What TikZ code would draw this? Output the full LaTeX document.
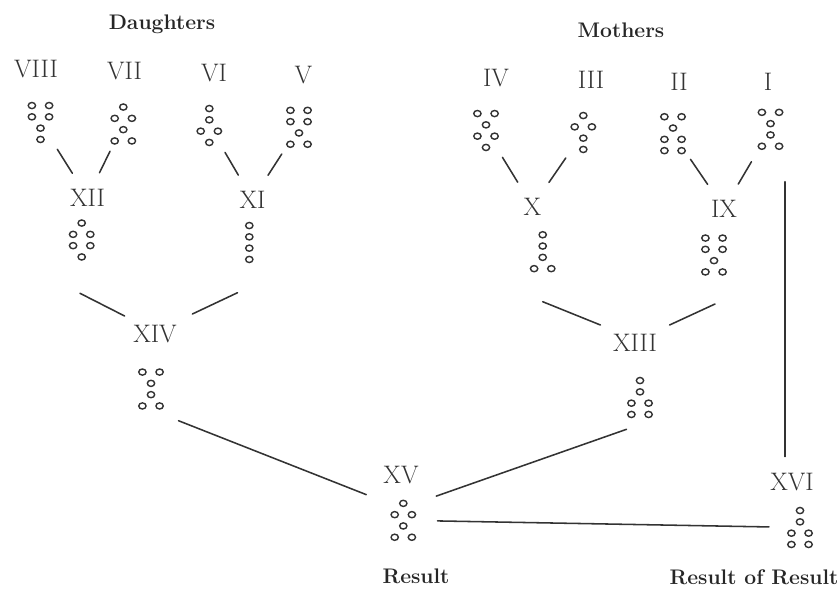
\documentclass[tikz,border=0pt]{standalone}
\usepackage{tikz}
\usetikzlibrary{calc}

% dots of a geomantic figure, rows from top to bottom (1 = one dot, 2 = two dots)
\newcommand{\geofig}[2]{%
  \foreach \n [count=\r] in #2 {%
    \ifnum\n=1
      \draw[pip] ([shift={(0,{(\r-2.5)*11.3})}]#1.center) ellipse [x radius=2.6pt, y radius=2.2pt];
    \else
      \draw[pip] ([shift={(-8.6,{(\r-2.5)*11.3})}]#1.center) ellipse [x radius=2.6pt, y radius=2.2pt]
                 ([shift={(8.6,{(\r-2.5)*11.3})}]#1.center) ellipse [x radius=2.6pt, y radius=2.2pt];
    \fi}}

\begin{document}
\begin{tikzpicture}[x=0.025cm,y=-0.025cm,line cap=round]
        \tikzstyle{numeral}=[font=\fontsize{18}{20}\selectfont, text=black!80, inner sep=6pt, anchor=base]
        \tikzstyle{title}=[font=\fontsize{15}{18}\selectfont\bfseries, text=black!85, anchor=base]
        \tikzstyle{fig}=[minimum width=0.65cm, minimum height=1cm, inner sep=0pt, outer sep=0pt]
        \tikzstyle{pip}=[draw=black!80, line width=1pt]
        \tikzstyle{arm}=[draw=black!80, line width=1.1pt]
        \tikzstyle{link}=[arm, shorten <=0.2cm, shorten >=0.2cm]
        \useasboundingbox (0,0) rectangle (840,591);

        \node[title] (daughters) at (162,30) {Daughters};
        \node[title] (mothers) at (621,38) {Mothers};
        \node[title] (result) at (416,583) {Result};
        \node[title] (resres) at (754,584) {Result of Result};

        \foreach \name/\x/\y in {VIII/36/78, VII/124.5/79, VI/214/81, V/303.5/83,
                IV/496/87, III/591/88, II/679/90, I/768/91, XII/87.5/206, XI/252.5/208,
                X/532.5/215, IX/724/217, XIV/155/342, XIII/635/351, XV/401/483, XVI/792/490}
            \node[numeral] (l\name) at (\x,\y) {\name};

        \foreach \name/\x/\y/\rows in {VIII/40.5/122.5/{2,2,1,1}, VII/123.3/124/{1,2,1,2},
                VI/209.3/125.5/{1,1,2,1}, V/299/127.3/{2,2,1,2}, IV/486/130.5/{2,1,2,1},
                III/583.3/132.5/{1,2,1,1}, II/673/133.7/{2,1,2,2}, I/770.5/129.3/{2,1,1,2},
                XII/81.7/240/{1,2,2,1}, XI/249.3/242.5/{1,1,1,1}, X/542.7/251.7/{1,1,1,2},
                IX/714/255/{2,2,1,2}, XIV/151/389/{2,1,1,2}, XIII/640/397.5/{1,1,2,2},
                XV/403.3/520.3/{1,2,1,2}, XVI/800/527.5/{1,1,2,2}}
        {
            \node[fig] (f\name) at (\x,\y) {};
            \geofig{f\name}{\rows}
        }

        \foreach \a/\b in {VIII/XII, VII/XII, VI/XI, V/XI, IV/X, III/X, II/IX}
            \draw[link] (f\a) -- (l\b);
        \draw[link, shorten <=0.36cm] (fI) -- (lIX);

        \draw[arm] ($(fXII.south)+(-1.7,33.3)$) -- (lXIV.north west);
        \draw[arm] ($(fXI.south)+(-11.8,30.2)$) -- ($(lXIV.north east)+(7,-2)$);
        \draw[arm] ($(fX.south)+(0,30)$) -- ($(lXIII.north west)+(-4,0)$);
        \draw[arm] ($(fIX.south)+(1,29)$) -- ($(lXIII.north east)+(4,0)$);
        \draw[arm] ($(fXIV.south east)+(14.5,11.7)$) -- ($(lXV.south west)+(-8.5,2.5)$);
        \draw[arm] ($(fXIII.south west)+(-0.5,11.8)$) -- ($(lXV.south east)+(9,4)$);
        \draw[arm] ($(lXVI.north |- fI.south)+(-7,32.4)$) -- ($(lXVI.north)+(-7,-7.4)$);
        \draw[link, shorten <=0.53cm, shorten >=0.45cm] (fXV) -- (fXVI);
    \end{tikzpicture}
\end{document}
